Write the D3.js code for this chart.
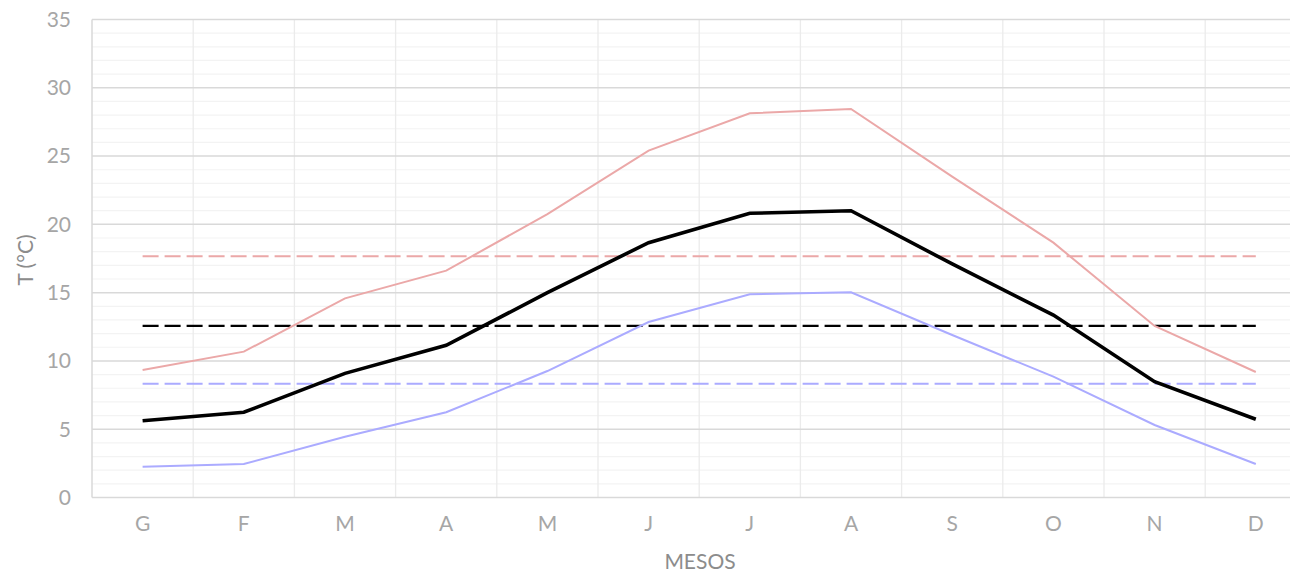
<!DOCTYPE html>
<html><head><meta charset="utf-8">
<script src="https://cdn.jsdelivr.net/npm/d3@7"></script>
<style>body{margin:0;background:#fff;} text{font-family:Lato,"Open Sans",sans-serif;}</style>
</head><body>
<svg id="c" width="1290" height="572"></svg>
<script>
const months = ["G","F","M","A","M","J","J","A","S","O","N","D"];
const tMean = [5.62,6.24,9.09,11.14,15.0,18.66,20.81,21.0,17.1,13.36,8.48,5.73];
const tMax  = [9.34,10.68,14.58,16.61,20.75,25.4,28.13,28.45,23.5,18.66,12.56,9.19];
const tMin  = [2.26,2.45,4.45,6.24,9.26,12.85,14.88,15.02,11.9,8.85,5.31,2.45];
const annualMean = 12.57, annualMax = 17.67, annualMin = 8.33;
const yTicks = [0,5,10,15,20,25,30,35];

const svg = d3.select("#c");
const L = 92, R = 92 + 12*101.2, T = 19.5, B = 497.5;
const x = d3.scaleBand().domain(d3.range(12)).range([L, R]).padding(0);
const y = d3.scaleLinear().domain([0,35]).range([B, T]);
const cx = i => x(i) + x.bandwidth()/2;

// minor gridlines
svg.append("g").selectAll("line").data(d3.range(0,36).filter(v=>v%5!==0)).join("line")
  .attr("x1",L).attr("x2",R).attr("y1",d=>y(d)).attr("y2",d=>y(d))
  .attr("stroke","#F3F3F3").attr("stroke-width",1.2);
// vertical gridlines
svg.append("g").selectAll("line").data(d3.range(1,13)).join("line")
  .attr("x1",d=>L+d*x.bandwidth()).attr("x2",d=>L+d*x.bandwidth()).attr("y1",T).attr("y2",B)
  .attr("stroke","#EBEBEB").attr("stroke-width",1.3);
// major gridlines
svg.append("g").selectAll("line").data(yTicks).join("line")
  .attr("x1",L).attr("x2",R).attr("y1",d=>y(d)).attr("y2",d=>y(d))
  .attr("stroke","#D9D9D9").attr("stroke-width",1.5);
// left axis line
svg.append("line").attr("x1",L).attr("x2",L).attr("y1",T).attr("y2",B).attr("stroke","#D9D9D9").attr("stroke-width",1.5);

// y tick labels
svg.append("g").selectAll("text").data(yTicks).join("text")
  .attr("x",71).attr("y",d=>y(d)).attr("dy","0.35em").attr("text-anchor","end")
  .attr("fill","#A6A6A6").attr("font-size",21).text(d=>d);
// x tick labels
svg.append("g").selectAll("text").data(months).join("text")
  .attr("x",(d,i)=>cx(i)).attr("y",524).attr("dy","0.35em").attr("text-anchor","middle")
  .attr("fill","#A6A6A6").attr("font-size",21).text(d=>d);
// axis titles
svg.append("text").attr("x",700).attr("y",562).attr("dy","0.35em").attr("text-anchor","middle")
  .attr("fill","#8C8C8C").attr("font-size",21).text("MESOS");
svg.append("text").attr("transform","translate(26,260) rotate(-90)").attr("dy","0.35em").attr("text-anchor","middle")
  .attr("fill","#8C8C8C").attr("font-size",21).text("T (°C)");

// dashed mean lines
const dashed = [
  {v:annualMax, c:"#EBA8A8", w:2},
  {v:annualMean, c:"#000000", w:2.2},
  {v:annualMin, c:"#ABABFF", w:2}
];
svg.append("g").selectAll("line").data(dashed).join("line")
  .attr("x1",cx(0)).attr("x2",cx(11)).attr("y1",d=>y(d.v)).attr("y2",d=>y(d.v))
  .attr("stroke",d=>d.c).attr("stroke-width",d=>d.w).attr("stroke-dasharray","16,6");

const line = d3.line().x((d,i)=>cx(i)).y(d=>y(d));
svg.append("path").datum(tMax).attr("d",line).attr("fill","none").attr("stroke","#EBA8A8").attr("stroke-width",2);
svg.append("path").datum(tMin).attr("d",line).attr("fill","none").attr("stroke","#ABABFF").attr("stroke-width",2);
svg.append("path").datum(tMean).attr("d",line).attr("fill","none").attr("stroke","#000").attr("stroke-width",3.6);
</script>
</body></html>
